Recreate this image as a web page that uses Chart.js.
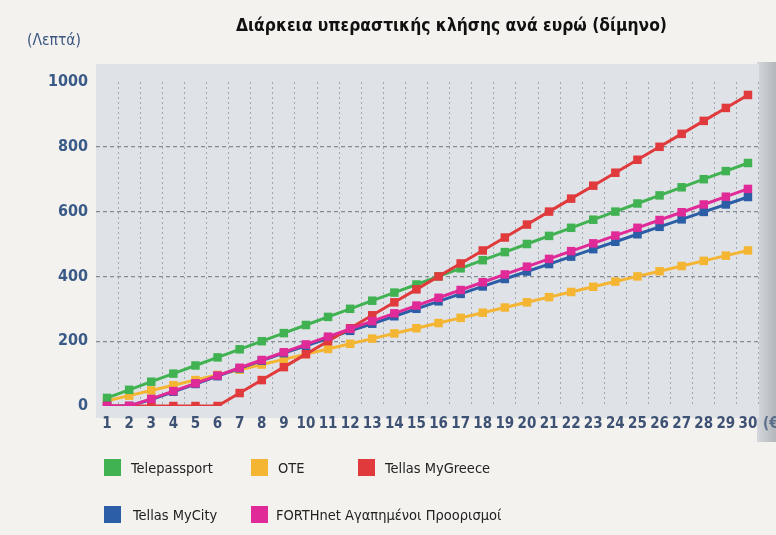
<!DOCTYPE html>
<html>
<head>
<meta charset="utf-8">
<script src="https://cdn.jsdelivr.net/npm/chart.js@4"></script>
<style>
  html, body { margin: 0; padding: 0; background: #f3f2ee; }
  #wrap { position: relative; width: 776px; height: 535px; overflow: hidden; }
  #myChart { position: absolute; left: 0; top: 0; }
  .title { position: absolute; left: 236px; top: 15px; font: bold 17.3px "DejaVu Sans Condensed", "Liberation Sans", sans-serif; color: #111; white-space: nowrap; }
  .ytitle { position: absolute; left: 27px; top: 31px; font: 15.5px "DejaVu Sans Condensed", "Liberation Sans", sans-serif; color: #3a5680; }
  .xunit { position: absolute; left: 763px; top: 414px; font: bold 15px "DejaVu Sans Condensed", "Liberation Sans", sans-serif; color: #5b6f8c; }
  .shade { position: absolute; left: 757px; top: 62px; width: 19px; height: 380px; background: linear-gradient(to right, #d4d7db, #b3b7bc); }
  .leg { position: absolute; font: 14.5px "DejaVu Sans Condensed", "Liberation Sans", sans-serif; color: #222; white-space: nowrap; }
  .leg span { display: inline-block; width: 17px; height: 17px; vertical-align: -3px; }
</style>
</head>
<body>
<div id="wrap">
  <div class="shade"></div>
  <canvas id="myChart" width="776" height="535"></canvas>
  <div class="title">Διάρκεια υπεραστικής κλήσης ανά ευρώ (δίμηνο)</div>
  <div class="ytitle">(Λεπτά)</div>
  <div class="xunit">(€)</div>
  <div id="legend"></div>
</div>
<script>
const xValues = [1, 2, 3, 4, 5, 6, 7, 8, 9, 10, 11, 12, 13, 14, 15, 16, 17, 18, 19, 20, 21, 22, 23, 24, 25, 26, 27, 28, 29, 30];

const telepassport = [25, 50, 75, 100, 125, 150, 175, 200, 225, 250, 275, 300, 325, 350, 375, 400, 425, 450, 475, 500, 525, 550, 575, 600, 625, 650, 675, 700, 725, 750];
const ote = [16, 32, 48, 64, 80, 96, 112, 128, 144, 160, 176, 192, 208, 224, 240, 256, 272, 288, 304, 320, 336, 352, 368, 384, 400, 416, 432, 448, 464, 480];
const myGreece = [0, 0, 0, 0, 0, 0, 40, 80, 120, 160, 200, 240, 280, 320, 360, 400, 440, 480, 520, 560, 600, 640, 680, 720, 760, 800, 840, 880, 920, 960];
const myCity = [0, 0, 20, 44, 68, 92, 116, 140, 163, 186, 209, 232, 254, 277, 300, 323, 346, 369, 392, 415, 438, 461, 484, 507, 530, 553, 576, 599, 622, 645];
const forthnet = [0, 0, 22, 46, 70, 94, 118, 142, 166, 190, 214, 238, 262, 286, 310, 334, 358, 382, 406, 430, 454, 478, 502, 526, 550, 574, 598, 622, 646, 670];

const yTicks = [0, 200, 400, 600, 800, 1000];

const seriesNames = ["Telepassport", "OTE", "Tellas MyGreece", "Tellas MyCity", "FORTHnet Αγαπημένοι Προορισμοί"];
const seriesColors = ["#40b252", "#f4b533", "#e03a3c", "#2b5ea6", "#e02a98"];
const seriesData = [telepassport, ote, myGreece, myCity, forthnet];
const drawOrder = [3, 5, 1, 2, 0]; // lower draws on top

const tickFont = '"DejaVu Sans Condensed", "Liberation Sans", sans-serif';

// legend boxes, two rows like the print
const legendPos = [[104, 459], [251, 459], [358, 459], [104, 506], [251, 506]];
const legendGap = [27, 27, 27, 29, 25];
const legendEl = document.getElementById("legend");
seriesNames.forEach((name, i) => {
    const d = document.createElement("div");
    d.className = "leg";
    d.style.left = legendPos[i][0] + "px";
    d.style.top = legendPos[i][1] + "px";
    d.innerHTML = '<span style="background:' + seriesColors[i] + ';margin-right:' + (legendGap[i] - 17) + 'px"></span>' + name;
    legendEl.appendChild(d);
});

const plotBg = {
    id: "plotBg",
    beforeDraw(chart) {
        const a = chart.chartArea;
        const ctx = chart.ctx;
        ctx.save();
        ctx.fillStyle = "#dfe2e7";
        ctx.fillRect(a.left, a.top - 18, a.right - a.left, a.bottom - a.top + 30);
        ctx.restore();
    }
};

new Chart("myChart", {
    type: "line",
    data: {
        labels: xValues,
        datasets: seriesData.map((d, i) => ({
            label: seriesNames[i],
            data: d,
            borderColor: seriesColors[i],
            backgroundColor: seriesColors[i],
            borderWidth: 3,
            pointStyle: "rect",
            pointRadius: 6,
            pointHoverRadius: 6,
            pointBorderWidth: 0,
            fill: false,
            tension: 0,
            order: drawOrder[i]
        }))
    },
    options: {
        responsive: false,
        animation: false,
        layout: { padding: { top: 82, right: 17, left: 0, bottom: 0 } },
        plugins: {
            legend: { display: false },
            tooltip: { enabled: false }
        },
        scales: {
            x: {
                offset: true,
                grid: {
                    offset: true,
                    drawTicks: false,
                    color: ctx => (ctx.index === 0 || ctx.index === xValues.length) ? "rgba(0,0,0,0)" : "#a2a8b0",
                    lineWidth: 1
                },
                border: { display: false, dash: [2, 3] },
                ticks: {
                    padding: 9,
                    maxRotation: 0,
                    autoSkip: false,
                    color: "#3e5275",
                    font: { family: tickFont, size: 15, weight: "bold" }
                },
                afterFit: s => { s.height = 129; }
            },
            y: {
                min: 0,
                max: 1000,
                afterBuildTicks: s => { s.ticks = yTicks.map(v => ({ value: v })); },
                border: { display: false, dash: [4, 3] },
                grid: {
                    drawTicks: false,
                    color: ctx => (ctx.tick && (ctx.tick.value === 0 || ctx.tick.value === 1000)) ? "rgba(0,0,0,0)" : "#868c95",
                    lineWidth: 1.3
                },
                ticks: {
                    padding: 8,
                    color: "#3a5a88",
                    font: { family: tickFont, size: 16, weight: "bold" },
                    callback: v => String(v)
                },
                afterFit: s => { s.width = 96; }
            }
        }
    },
    plugins: [plotBg]
});
</script>
</body>
</html>
